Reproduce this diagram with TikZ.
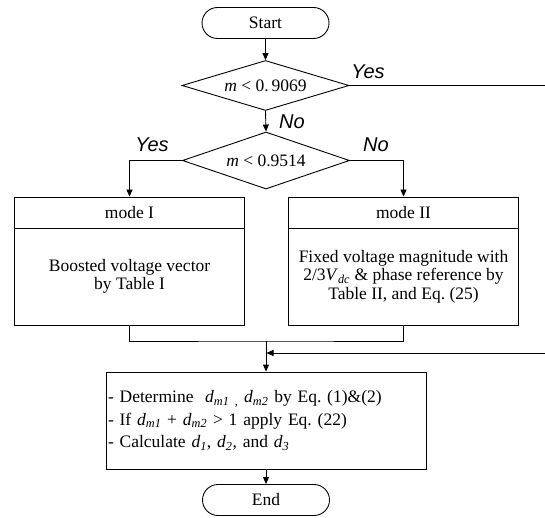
\documentclass[tikz,border=0pt]{standalone}
\usepackage{fontspec}
\setmainfont{Liberation Serif}
\newfontfamily\lblfont{Liberation Sans}
\usetikzlibrary{shapes.geometric,arrows.meta}
\newcommand\vsub[2]{\textit{#1}\textsubscript{\textit{#2}}}
\frenchspacing
\begin{document}
\begin{tikzpicture}[x=1pt,y=-1pt, line width=0.9pt,
 every node/.style={font=\fontsize{17.5}{18.5}\selectfont},
 term/.style={draw, rounded corners=15.5pt, minimum width=127pt, minimum height=31pt, inner sep=0pt},
 dec/.style={draw, diamond, aspect=3, inner sep=0pt, minimum width=167pt},
 box/.style={draw, minimum width=229.5pt, inner sep=0pt, align=center},
 lbl/.style={font=\lblfont\itshape\fontsize{20}{22}\selectfont, inner sep=0pt},
 arr/.style={-{Triangle[length=7pt,width=6pt]}}
]
\useasboundingbox (0,0) rectangle (545,518);

\node[term] (start) at (265.5,23) {Start};
\node[dec, minimum height=50pt] (d1) at (265.5,85.5) {\textit{m} < 0.\,9069};
\node[dec, minimum height=57pt] (d2) at (266,160.5) {\textit{m} < 0.9514};

\node[box, minimum height=31pt] (m1h) at (129.5,212.5) {mode I};
\node[box, minimum height=97pt] (m1b) at (129.5,276.5) {Boosted voltage vector\\by Table I};
\node[box, minimum height=31pt] (m2h) at (403.5,212.5) {mode II};
\node[box, minimum height=97pt] (m2b) at (403.5,276.5) {Fixed voltage magnitude with\\2/3\vsub{V}{dc} \& phase reference by\\Table II, and Eq. (25)};

\node[draw, minimum width=320pt, minimum height=97pt, text width=316pt, inner xsep=2pt, inner ysep=0pt, align=left,
 font=\fontsize{17.5}{22.5}\selectfont] (calc) at (266,420.5)
 {- Determine \ \vsub{d}{m1 ,} \vsub{d}{m2} by Eq. (1)\&(2)\\
  - If \vsub{d}{m1} + \vsub{d}{m2} > 1 apply Eq. (22)\\
  - Calculate \vsub{d}{1}, \vsub{d}{2}, and \vsub{d}{3}};
\node[term] (end) at (266,500) {End};

\coordinate (yesout) at (545,85.5);
\coordinate (join) at (266,341);
\coordinate (retin) at (545,353);
\coordinate (retend) at (266.5,353);

\draw[arr] (start) -- (d1);
\draw (d1.east) -- (yesout);
\draw[arr] (d1.south) -- (d2.north);
\draw[arr] (d2.west) -| (m1h.north);
\draw[arr] (d2.east) -| (m2h.north);
\draw (m1b.south) |- (join) -| (m2b.south);
\draw[arr] (join) -- (calc.north);
\draw[arr] (retin) -- (retend);
\draw[arr] (calc.south) -- (end.north);

\node[lbl] (yes1) at (368,72) {Yes};
\node[lbl] (no1) at (292,122) {No};
\node[lbl] (yes2) at (152,145) {Yes};
\node[lbl] (no2) at (376,145) {No};
\end{tikzpicture}
\end{document}
